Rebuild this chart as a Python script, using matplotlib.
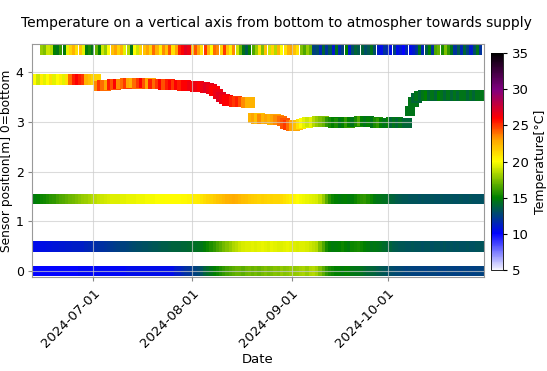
import numpy as np
import pandas as pd
import matplotlib
matplotlib.use("Agg")
import matplotlib.pyplot as plt
import matplotlib.dates as mdates
from matplotlib.colors import LinearSegmentedColormap

# ---------------- data ----------------
start_main = "2024-06-13"
start_top = "2024-06-15"

# sensor at 0 m (bottom)
temp_s0 = [10.0]*15 + [10.2]*15 + [10.5]*15 + \
    [11.0, 11.2, 11.5, 11.8, 12.0, 12.2, 12.5, 12.8] + \
    [13.2, 13.8, 14.2, 14.6, 15.0, 15.3, 15.6] + \
    [16.0, 16.3, 16.5, 16.8, 17.0, 17.0, 16.8, 17.1, 17.2, 17.0] + \
    [17.2, 17.0, 17.3, 17.5, 17.2, 17.4, 17.6, 17.5, 17.8, 17.6, 17.7, 17.9, 17.8] + \
    [18.0, 18.2, 18.3, 18.0, 18.4, 18.5, 18.2, 17.5, 16.8, 16.0] + \
    [15.5, 15.2, 15.0, 15.0, 14.8, 15.0, 14.9, 14.7, 14.5, 14.6, 14.4, 14.2, 14.0, 14.0, 13.8, 13.6, 13.5, 13.4] + \
    [13.2, 13.0, 12.9, 12.8, 12.8, 12.7, 12.6, 12.7, 12.6, 12.5, 12.6, 12.5, 12.4, 12.5, 12.6,
     12.5, 12.4, 12.5, 12.4, 12.5, 12.5, 12.4, 12.5, 12.4, 12.5, 12.4, 12.5, 12.4, 12.5]

# sensor at 0.5 m
temp_s05 = [10.4, 10.5, 10.5, 10.6, 10.6, 10.7, 10.7, 10.8, 10.8, 10.9, 10.9, 11.0, 11.0, 11.1, 11.1, 11.2, 11.2] + \
    [11.4, 11.5, 11.6, 11.7, 11.8, 11.9, 12.0, 12.1, 12.2, 12.3, 12.4, 12.5, 12.6, 12.7, 12.8, 12.9, 13.0, 13.0, 13.1, 13.2] + \
    [13.3, 13.4, 13.4, 13.5, 13.6, 13.6, 13.7, 13.8, 13.8, 13.9, 14.0, 14.0, 14.1, 14.2, 14.3, 14.4] + \
    [14.6, 14.9, 15.2, 15.6, 16.0, 16.4, 16.8, 17.2, 17.6, 18.0] + \
    [18.4, 18.7, 19.0, 19.2, 19.3, 19.4, 19.5, 19.4, 19.5, 19.6, 19.5, 19.4, 19.6, 19.5, 19.3, 19.4,
     19.5, 19.6, 19.5, 19.3, 19.2, 19.4, 19.3, 19.2, 19.0, 18.8, 18.5] + \
    [17.5, 16.5, 15.5, 15.0, 14.8, 14.9, 15.0, 15.2] + \
    [15.0, 14.8, 15.2, 15.4, 15.5, 15.3, 15.0, 14.8, 14.6, 14.7, 14.5, 14.4, 14.2] + \
    [14.0, 13.8, 13.6, 13.5, 13.4, 13.4, 13.3, 13.3, 13.4, 13.3, 13.3, 13.2, 13.3, 13.3, 13.2,
     13.3, 13.3, 13.2, 13.3, 13.2, 13.3, 13.2, 13.3, 13.2, 13.2, 13.3, 13.2, 13.2, 13.3]

# sensor at 1.45 m
temp_s15 = [14.6, 14.8, 15.0, 15.2, 15.4, 15.6, 15.8, 16.0, 16.3] + \
    [16.5, 16.7, 16.9, 17.1, 17.3, 17.5, 17.7, 17.9, 18.1, 18.3, 18.5] + \
    [18.7, 18.9, 19.0, 19.1, 19.2, 19.3, 19.4, 19.4, 19.5, 19.5, 19.6, 19.6, 19.6, 19.7, 19.7, 19.7,
     19.8, 19.8, 19.8, 19.9, 19.9, 19.9, 20.0, 20.0, 20.0, 20.1, 20.1, 20.2, 20.2, 20.3, 20.3] + \
    [20.5, 20.7, 20.9, 21.1, 21.3, 21.5, 21.7, 21.9, 22.1, 22.3, 22.5, 22.6, 22.7, 22.6, 22.4, 22.2, 22.0] + \
    [21.8, 21.7, 21.6, 21.5, 21.6, 21.5, 21.4, 21.5, 21.4, 21.3, 21.2, 21.0, 20.8] + \
    [20.5, 20.3, 20.0, 19.8, 19.7, 19.6, 19.5, 19.4, 19.2, 18.8, 18.0] + \
    [16.8, 15.8, 15.2, 15.0, 14.8, 14.9, 15.0, 14.8, 14.9, 15.2, 15.6, 15.8, 15.9, 15.6, 15.2] + \
    [14.8, 14.6, 14.5, 14.4, 14.3, 14.0, 13.8, 13.6, 13.5, 13.4, 13.4, 13.3, 13.3, 13.3, 13.2, 13.3,
     13.2, 13.2, 13.3, 13.2, 13.2, 13.3, 13.2, 13.2, 13.3, 13.2, 13.2, 13.3, 13.2, 13.2, 13.3, 13.2, 13.2]

# floating sensor (position varies)
pos_float = [3.85]*20 + \
    [3.72, 3.73, 3.73, 3.74, 3.75, 3.75, 3.76, 3.76, 3.77, 3.77, 3.78, 3.78, 3.77, 3.78, 3.78, 3.77,
     3.77, 3.76, 3.76, 3.76, 3.75, 3.75, 3.75, 3.74, 3.74, 3.74, 3.73, 3.73] + \
    [3.72, 3.72, 3.71, 3.71, 3.70, 3.69, 3.68, 3.66, 3.62, 3.56, 3.50, 3.46, 3.43, 3.42, 3.41, 3.41,
     3.40, 3.40, 3.39, 3.39] + \
    [3.08, 3.07, 3.07, 3.06, 3.06, 3.06, 3.05, 3.05, 3.04, 3.02] + \
    [2.97, 2.94, 2.93, 2.93, 2.94, 2.96] + \
    [2.98, 2.99, 3.00, 3.00, 3.01, 3.01, 3.01, 3.00, 3.00, 2.99, 2.99, 2.98, 2.98, 2.99, 2.99, 3.00,
     3.00, 3.01, 3.02, 3.02, 3.01, 3.00, 2.99, 2.99, 2.98, 2.98, 2.98, 2.99, 2.99, 2.99, 2.98, 2.98, 2.98] + \
    [3.22, 3.40, 3.48, 3.52, 3.53, 3.53, 3.52, 3.53, 3.54, 3.53, 3.52, 3.53, 3.53, 3.54, 3.53, 3.53,
     3.52, 3.53, 3.53, 3.53, 3.54, 3.53, 3.53]
temp_float = [19.5, 20.0, 19.0, 20.5, 19.5, 20.0, 21.0, 19.5, 20.0, 20.5, 19.5, 21.0] + \
    [24.0, 25.5, 26.0, 25.5, 25.0] + [22.5, 22.0, 21.5] + \
    [23.5, 25.0, 24.0, 23.0, 25.5, 24.5, 26.0, 23.5, 24.0, 25.0, 23.0, 22.5, 24.0, 25.0, 26.0, 24.5,
     23.0, 25.5, 24.0, 25.0, 26.0, 24.5, 25.5, 26.0, 25.0, 26.0, 25.5, 26.0] + \
    [26.0, 26.5, 26.0, 26.5, 26.0, 26.5, 27.0, 26.5, 26.0, 26.5, 27.0, 26.5, 26.0, 26.0, 25.5, 25.0,
     25.5, 24.5, 23.5, 22.5] + \
    [22.5, 23.0, 22.0, 23.5, 22.5, 23.0, 22.5, 23.0, 23.5, 24.0] + \
    [24.5, 25.0, 24.0, 23.0, 22.0, 21.0] + \
    [20.0, 19.5, 19.0, 19.5, 18.5, 18.0, 17.5, 17.0, 16.0, 15.5, 15.0, 15.5, 14.5, 15.0, 16.0, 15.0,
     14.5, 15.5, 16.5, 15.0, 14.5, 15.0, 14.5, 15.5, 16.0, 15.0, 14.5, 15.0, 14.0, 14.5, 14.0, 14.5, 14.0] + \
    [14.5, 14.5, 14.0, 14.5, 14.0, 14.5, 15.0, 14.0, 14.5, 14.0, 15.0, 14.5, 14.0, 14.5, 14.0, 14.5,
     14.0, 14.5, 14.5, 14.0, 14.5, 14.0, 14.5]

# top sensor (atmosphere), position 4.45 m
pos_top = 4.45
temp_top = [18.0, 17.5, 19.0, 18.5, 15.0, 14.5, 16.0, 14.8, 19.5, 21.5, 22.5, 21.0, 22.0, 19.5,
            14.8, 15.5, 14.5, 17.0, 15.0, 19.0, 18.0, 20.0, 22.0, 23.0, 21.5, 22.5, 19.5, 18.5, 14.5,
            20.0, 19.0, 21.5, 22.0,
            23.0, 21.5, 24.0, 22.5, 20.5, 23.5, 22.0, 24.5, 21.0, 23.0, 25.5, 26.0, 27.0, 26.5,
            22.0, 24.5, 23.0, 21.0, 25.0, 22.5, 20.0, 24.0, 23.5, 21.5, 25.0, 22.0, 20.5, 23.5, 19.0,
            17.0, 14.5, 13.5, 15.0, 16.5,
            18.0, 21.0, 17.5, 22.0, 19.0, 21.5, 18.5, 22.5, 20.0, 21.0,
            22.5, 23.0, 22.0, 21.0, 17.5, 16.5, 18.0, 17.0,
            12.5, 13.0, 11.5, 14.0, 12.0, 13.5, 11.0,
            14.5, 11.5, 12.5, 15.0, 11.0, 13.0, 14.0,
            13.5, 14.0, 13.0, 13.5, 14.5, 13.0,
            11.0, 10.5, 12.0, 11.5, 10.5, 12.5,
            10.5, 11.0, 10.0, 11.5, 10.5, 11.0,
            12.0, 14.5, 11.5, 13.5, 15.0, 12.0,
            16.5, 17.0, 15.5, 17.5, 16.0, 14.5,
            12.0, 13.5, 11.5, 14.0, 12.5, 11.0, 13.0, 14.5, 12.0]

fixed_positions = [0.0, 0.5, 1.45]
x_ticks = ["2024-07-01", "2024-08-01", "2024-09-01", "2024-10-01"]

# ---------------- plot ----------------
cmap = LinearSegmentedColormap.from_list(
    "tempmap",
    [(0.0, "#f4f4ff"), (1/6, "#0000ff"), (1/3, "#008000"), (0.5, "#ffff00"),
     (0.6, "#ffa500"), (0.7, "#ff0000"), (5/6, "#800080"), (1.0, "#000000")])
vmin, vmax = 5, 35

fig = plt.figure(figsize=(5.47, 3.71), dpi=100)
ax = fig.add_axes([0.0585, 0.253, 0.826, 0.628])

square = 58
for pos, temps in zip(fixed_positions, [temp_s0, temp_s05, temp_s15]):
    d = pd.date_range(start_main, periods=len(temps), freq="D")
    ax.scatter(d, [pos]*len(temps), c=temps, cmap=cmap, vmin=vmin, vmax=vmax,
               marker="s", s=square, linewidths=0, zorder=2)

d_float = pd.date_range(start_main, periods=len(temp_float), freq="D")
ax.scatter(d_float, pos_float, c=temp_float, cmap=cmap, vmin=vmin, vmax=vmax,
           marker="s", s=square, linewidths=0, zorder=2)

rect = [(-0.14, -0.5), (0.14, -0.5), (0.14, 0.5), (-0.14, 0.5), (-0.14, -0.5)]
d_top = pd.date_range(start_top, periods=len(temp_top), freq="D")
sc = ax.scatter(d_top, [pos_top]*len(temp_top), c=temp_top, cmap=cmap, vmin=vmin, vmax=vmax,
                marker=rect, s=62, linewidths=0, zorder=2)

ax.set_xlim(pd.Timestamp("2024-06-12"), pd.Timestamp("2024-10-31"))
ax.set_ylim(-0.12, 4.56)
ax.set_yticks([0, 1, 2, 3, 4])
ax.set_xticks(pd.to_datetime(x_ticks))
ax.xaxis.set_major_formatter(mdates.DateFormatter("%Y-%m-%d"))
plt.setp(ax.get_xticklabels(), rotation=45, ha="right", rotation_mode="anchor", fontsize=9.5)
ax.tick_params(axis="y", labelsize=9, pad=3)
ax.tick_params(length=3, color="#888888")
ax.grid(True, color="#cccccc", linewidth=0.8, alpha=0.7, zorder=3)
ax.set_axisbelow(False)
for s in ax.spines.values():
    s.set_color("#999999")
    s.set_linewidth(0.8)

ax.set_xlabel("Date", fontsize=9.5, labelpad=2)
ax.set_ylabel("Sensor position[m] 0=bottom", fontsize=8.8, labelpad=2)
fig.suptitle("Temperature on a vertical axis from bottom to atmospher towards supply",
             x=0.505, y=0.958, fontsize=10)

cax = fig.add_axes([0.898, 0.272, 0.021, 0.585])
cb = fig.colorbar(sc, cax=cax)
cb.set_ticks([5, 10, 15, 20, 25, 30, 35])
cb.ax.tick_params(labelsize=9.5, length=3)
cb.set_label("Temperature[°C]", fontsize=9)
cb.outline.set_linewidth(0.6)

fig.savefig("out.png", dpi=100)
